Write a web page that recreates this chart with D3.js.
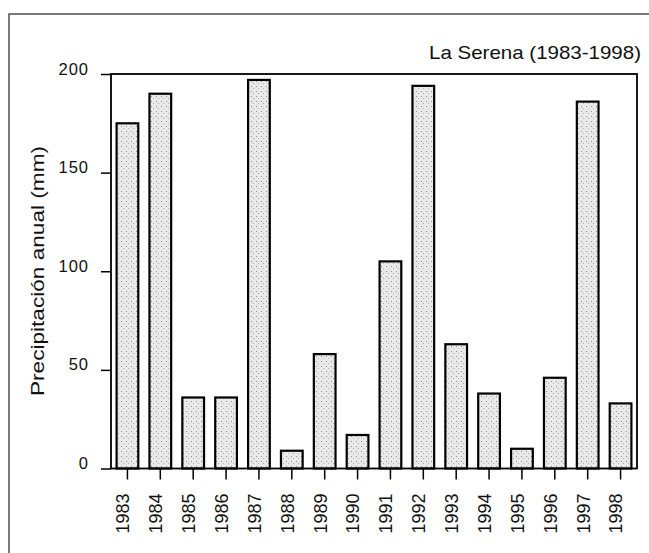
<!DOCTYPE html>
<html lang="es">
<head>
    <meta charset="UTF-8">
    <title>La Serena</title>
    <script src="https://d3js.org/d3.v7.min.js"></script>
    <style>
        * { margin: 0; padding: 0; box-sizing: border-box; }
        body { background: #fff; font-family: "Liberation Sans", Arial, sans-serif; }
        svg text { font-family: "Liberation Sans", Arial, sans-serif; fill: #111; }
    </style>
</head>
<body>
    <div id="chart"></div>
    <script>
        // data
        const years = ["1983","1984","1985","1986","1987","1988","1989","1990",
                       "1991","1992","1993","1994","1995","1996","1997","1998"];
        const precip = [175, 190, 36, 36, 197, 9, 58, 17, 105, 194, 63, 38, 10, 46, 186, 33];
        const yTicks = [0, 50, 100, 150, 200];
        const title = "La Serena (1983-1998)";
        const yLabel = "Precipitación anual (mm)";

        const W = 649, H = 553;
        const plot = { left: 111, right: 637, top: 74, bottom: 468.5 };

        const svg = d3.select("#chart")
                      .append("svg")
                      .attr("width", W)
                      .attr("height", H);

        // stipple fill like the scanned bars
        const pat = svg.append("defs").append("pattern")
                       .attr("id", "stip")
                       .attr("width", 5).attr("height", 5)
                       .attr("patternUnits", "userSpaceOnUse");
        pat.append("rect").attr("width", 5).attr("height", 5).attr("fill", "#e9e9e9");
        pat.append("rect").attr("x", 1).attr("y", 1).attr("width", 1).attr("height", 1).attr("fill", "#909090");
        pat.append("rect").attr("x", 3).attr("y", 3).attr("width", 1).attr("height", 1).attr("fill", "#b0b0b0");

        // outer frame (runs off the picture at right and bottom)
        svg.append("rect")
           .attr("x", 9).attr("y", 14)
           .attr("width", 660).attr("height", 560)
           .attr("fill", "none")
           .attr("stroke", "#333")
           .attr("stroke-width", 1.3);

        const x = d3.scaleBand()
                    .domain(years)
                    .range([plot.left, plot.right])
                    .paddingInner(0.34)
                    .paddingOuter(0.17);

        const y = d3.scaleLinear()
                    .domain([0, 200])
                    .range([plot.bottom, plot.top]);

        // bars
        svg.selectAll(".bar")
           .data(precip)
           .join("rect")
           .attr("class", "bar")
           .attr("x", (d, i) => x(years[i]))
           .attr("y", d => y(d))
           .attr("width", x.bandwidth())
           .attr("height", d => y(0) - y(d))
           .attr("fill", "url(#stip)")
           .attr("stroke", "#000")
           .attr("stroke-width", 2.2);

        // plot frame
        svg.append("rect")
           .attr("x", plot.left).attr("y", plot.top)
           .attr("width", plot.right - plot.left)
           .attr("height", plot.bottom - plot.top)
           .attr("fill", "none")
           .attr("stroke", "#000")
           .attr("stroke-width", 1.8);

        // y axis
        const yAxis = svg.append("g")
            .attr("transform", `translate(${plot.left},0)`)
            .call(d3.axisLeft(y).tickValues(yTicks).tickSize(10).tickPadding(12).tickSizeOuter(0));
        yAxis.select(".domain").remove();
        yAxis.selectAll("line").attr("stroke", "#000").attr("stroke-width", 1.5);
        yAxis.selectAll("text")
             .attr("dy", "0em")
             .style("font-size", "16.5px")
             .style("letter-spacing", "1px");

        // x axis
        const xAxis = svg.append("g")
            .attr("transform", `translate(0,${plot.bottom})`)
            .call(d3.axisBottom(x).tickSize(11).tickSizeOuter(0));
        xAxis.select(".domain").remove();
        xAxis.selectAll("line").attr("stroke", "#000").attr("stroke-width", 1.5);
        xAxis.selectAll("text")
             .attr("text-anchor", "end")
             .attr("x", 0)
             .attr("y", 0)
             .attr("dy", "0.1em")
             .attr("transform", "translate(0,25) rotate(-90)")
             .style("font-size", "18px");

        // title
        svg.append("text")
           .attr("x", 641)
           .attr("y", 59)
           .attr("text-anchor", "end")
           .attr("textLength", 212)
           .attr("lengthAdjust", "spacingAndGlyphs")
           .style("font-size", "18.5px")
           .text(title);

        // y label
        svg.append("text")
           .attr("transform", `translate(44,${(145 + 397) / 2}) rotate(-90)`)
           .attr("text-anchor", "middle")
           .attr("textLength", 250)
           .attr("lengthAdjust", "spacingAndGlyphs")
           .style("font-size", "18px")
           .text(yLabel);
    </script>
</body>
</html>
